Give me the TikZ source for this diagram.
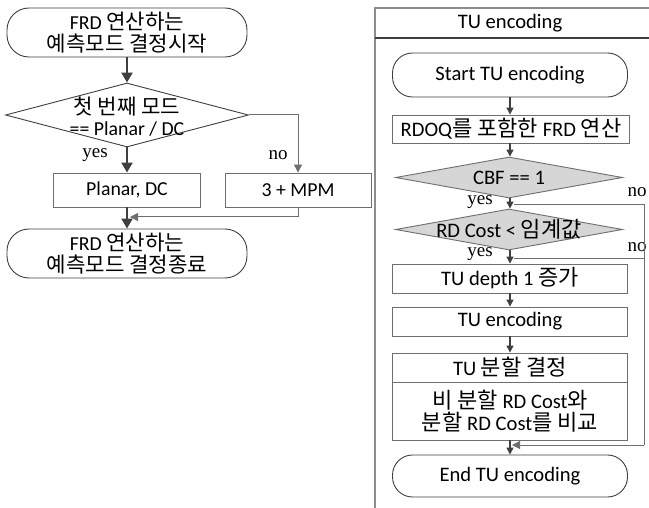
\documentclass[tikz,border=0pt]{standalone}
\usepackage{fontspec}
\setmainfont{Carlito}
\newfontfamily\kr[Scale=1.07]{Noto Sans CJK KR}
\newfontfamily\tms{Liberation Serif}
\usetikzlibrary{shapes.geometric,arrows.meta}
\definecolor{linec}{HTML}{3F3F3F}
\definecolor{boxc}{HTML}{6E6E6E}
\definecolor{framec}{HTML}{8C8C8C}
\definecolor{diafill}{HTML}{D6D6D6}
\newcommand\leftfs{\fontsize{19.8}{21.5}\selectfont}
\newcommand\rightfs{\fontsize{20.6}{22}\selectfont}
\begin{document}
\begin{tikzpicture}[x=1pt,y=-1pt,
  lterm/.style={draw=linec, line width=0.9pt, rounded corners=22pt, minimum width=240pt, minimum height=49pt, inner sep=0pt, align=center, font=\leftfs},
  lbox/.style={draw=boxc, line width=0.9pt, minimum width=147pt, minimum height=34pt, inner sep=0pt, align=center, font=\leftfs},
  ldia/.style={draw=linec, line width=0.9pt, diamond, minimum width=243pt, minimum height=64pt, inner sep=0pt, fill=white},
  ltxt/.style={inner sep=0pt, align=center, font=\leftfs},
  rterm/.style={draw=linec, line width=0.9pt, rounded corners=20pt, minimum width=235pt, inner sep=0pt, align=center, font=\rightfs},
  rbox/.style={draw=boxc, line width=0.9pt, minimum width=235pt, inner sep=0pt, align=center, font=\rightfs},
  rdia/.style={draw=boxc, line width=0.9pt, diamond, minimum width=227pt, minimum height=41pt, inner sep=0pt, fill=diafill},
  rtxt/.style={inner sep=0pt, align=center, font=\rightfs},
  yn/.style={inner sep=0pt, font=\tms\fontsize{19}{21}\selectfont},
  larr/.style={draw=linec, line width=2.2pt, -{Triangle[length=10pt,width=11pt]}},
  rarr/.style={draw=linec, line width=1.3pt, -{Triangle[length=7pt,width=7pt]}},
  noline/.style={draw=boxc, line width=1pt},
  noarr/.style={draw=boxc, line width=1pt, -{Triangle[length=8pt,width=8pt]}},
]
\useasboundingbox (0,0) rectangle (649,508);

% ---------- left flowchart ----------
\node[lterm] (s) at (127,32.5) {FRD {\kr 연산하는}\\{\kr 예측모드 결정시작}};
\node[ldia] (d1) at (127,115) {};
\node[ltxt] (d1t) at (127,116.5) {{\kr 첫 번째 모드}\\== Planar / DC};
\node[lbox] (pl) at (127,190) {Planar, DC};
\node[lbox, minimum width=146pt] (mpm) at (298,190) {3 + MPM};
\node[lterm] (e) at (127,253.5) {FRD {\kr 연산하는}\\{\kr 예측모드 결정종료}};
\coordinate (m1) at (130,217);

\node[yn] (y1) at (95,155) {yes};
\node[yn] (n1l) at (278,155) {no};

\draw[larr] (s.south) -- (d1.north);
\draw[larr] (d1.south) -- (pl.north);
\draw[larr] (pl.south) -- (e.north);
\draw[noarr] (d1.east) -| (mpm.north);
\draw[noarr] (mpm.south) |- (m1);

% ---------- right panel ----------
\coordinate (fbl) at (375,508);
\coordinate (ftl) at (375,8);
\coordinate (ftr) at (649,8);
\coordinate (hl) at (375,38);
\coordinate (hr) at (649,38);
\draw[framec, line width=1.8pt] (fbl) -- (ftl) -- (ftr);
\draw[linec, line width=1.1pt] (hl) -- (hr);
\node[rtxt] (title) at (510,23) {TU encoding};

\node[rterm, minimum height=44pt] (st) at (510,75) {Start TU encoding};
\node[rbox, minimum width=237pt, minimum height=28pt] (rdoq) at (511,129) {RDOQ{\kr 를 포함한} FRD {\kr 연산}};
\node[rdia] (cbf) at (509,177.5) {};
\node[rtxt] (cbft) at (509,177.5) {CBF == 1};
\node[rdia] (rdc) at (509,229.5) {};
\node[rtxt] (rdct) at (509,229.5) {RD Cost < {\kr 임계값}};
\node[rbox, minimum height=29pt] (dep) at (510,278.5) {TU depth 1 {\kr 증가}};
\node[rbox, minimum height=29pt] (enc) at (510,321.5) {TU encoding};
\node[rbox, minimum height=29pt] (spl) at (510,367.5) {TU {\kr 분할 결정}};
\node[rbox, minimum height=58pt] (cmp) at (510,411) {{\kr 비 분할} RD Cost{\kr 와}\\{\kr 분할} RD Cost{\kr 를 비교}};
\node[rterm, minimum height=42pt] (en) at (510,476) {End TU encoding};

\node[yn] (y2) at (480,202) {yes};
\node[yn] (n2) at (637,192) {no};
\node[yn] (y3) at (480,254) {yes};
\node[yn] (n3) at (637,247) {no};

\draw[rarr] (st.south) -- (st.south |- rdoq.north);
\draw[rarr] (st.south |- rdoq.south) -- (st.south |- cbf.north);
\draw[rarr] (st.south |- cbf.south) -- (st.south |- rdc.north);
\draw[rarr] (st.south |- rdc.south) -- (dep.north);
\draw[rarr] (dep.south) -- (enc.north);
\draw[rarr] (enc.south) -- (spl.north);
\draw[rarr] (cmp.south) -- (en.north);

\coordinate (c1a) at (514,205);
\coordinate (c1b) at (644,205);
\coordinate (c2a) at (514,259);
\coordinate (c2b) at (644,259);
\coordinate (c3) at (644,445);
\coordinate (m2) at (512,445);
\draw[noline] (c1a) -- (c1b) -- (c3);
\draw[noline] (c2a) -- (c2b);
\draw[noarr] (c3) -- (m2);
\end{tikzpicture}
\end{document}
